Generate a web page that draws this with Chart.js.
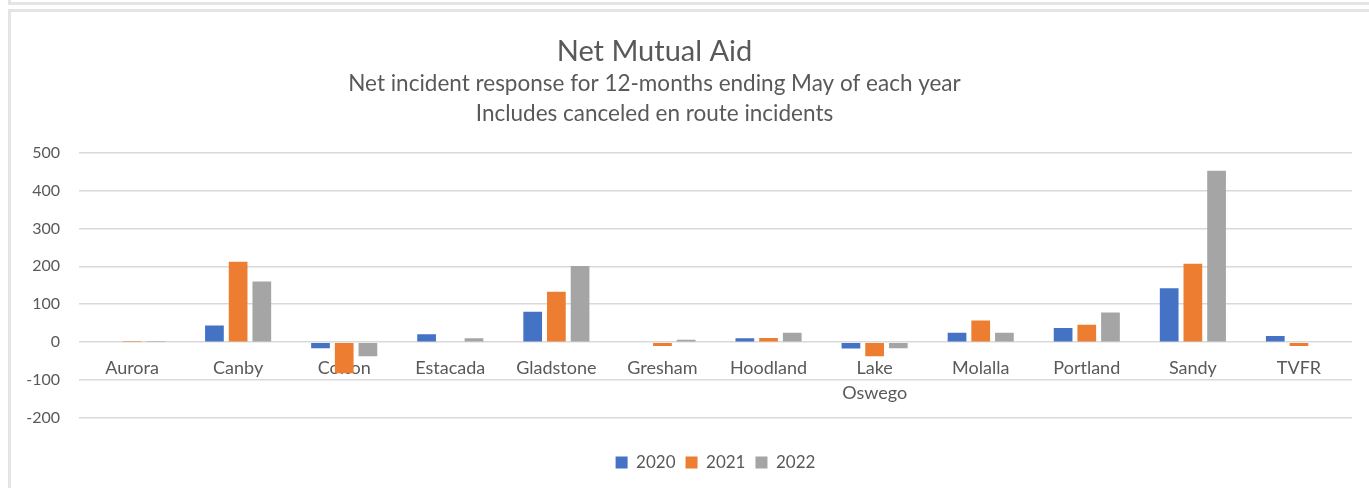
<!DOCTYPE html>
<html>
<head>
<meta charset="utf-8">
<script src="https://cdn.jsdelivr.net/npm/chart.js@4.4.0/dist/chart.umd.min.js"></script>
<style>
  html, body { margin: 0; padding: 0; background: #fff; }
  body { width: 1369px; height: 488px; position: relative; overflow: hidden; }
  .frame-top { position: absolute; left: 8px; top: -4px; width: 1400px; height: 6px;
    border-left: 3px solid #e4e4e4; border-bottom: 3px solid #e4e4e4; }
  .frame { position: absolute; left: 8px; top: 9px; width: 1400px; height: 600px;
    border-left: 3px solid #e4e4e4; border-top: 3px solid #e4e4e4; }
  #myChart { position: absolute; left: -43px; top: 0; }
</style>
</head>
<body>
<div class="frame-top"></div>
<div class="frame"></div>
<canvas id="myChart" width="1396" height="488"></canvas>
<script>
// 데이터
const stations = ["Aurora", "Canby", "Colton", "Estacada", "Gladstone", "Gresham",
  "Hoodland", ["Lake", "Oswego"], "Molalla", "Portland", "Sandy", "TVFR"];
const years = ["2020", "2021", "2022"];
const net2020 = [0, 44, -16, 21, 80, -2, 10, -17, 25, 37, 142, 16];
const net2021 = [3, 212, -82, 0, 133, -10, 11, -37, 57, 46, 207, -10];
const net2022 = [3, 160, -37, 10, 201, 6, 25, -16, 25, 78, 452, 2];
const yTicks = [-200, -100, 0, 100, 200, 300, 400, 500];

const colors = ["#4472C4", "#ED7D31", "#A5A5A5"];
const textColor = "#595959";

function initChart() {
  const options = {
    responsive: false,
    animation: false,
    layout: {
      padding: { top: 0, left: 0, right: 1, bottom: 7 },
    },
    scales: {
      x: {
        position: { y: 0 },
        z: 1,
        grid: { display: false, drawTicks: false },
        border: { display: false },
        ticks: {
          color: textColor,
          padding: 13.5,
          maxRotation: 0,
          autoSkip: false,
          font: { family: "Lato", size: 18, lineHeight: 25 / 18 },
        },
      },
      // 범례 위 여백용
      pad: {
        type: "linear",
        axis: "x",
        position: "bottom",
        ticks: { display: false },
        grid: { display: false },
        border: { display: false },
        afterFit: (s) => { s.height = 26; },
      },
      y: {
        min: -200,
        max: 500,
        afterFit: (s) => { s.width = 122; },
        afterBuildTicks: (s) => { s.ticks = yTicks.map((v) => ({ value: v })); },
        grid: { color: "#d9d9d9", lineWidth: 1.5, drawTicks: false },
        border: { display: false },
        ticks: {
          color: textColor,
          padding: 19,
          font: { family: "Lato", size: 16 },
        },
      },
    },
    plugins: {
      title: {
        display: true,
        text: "Net Mutual Aid",
        color: textColor,
        font: { family: "Lato", size: 29, weight: "normal", lineHeight: 1.2 },
        padding: { top: 34, bottom: 0 },
      },
      subtitle: {
        display: true,
        text: ["Net incident response for 12-months ending May of each year",
          "Includes canceled en route incidents"],
        color: textColor,
        font: { family: "Lato", size: 22.5, lineHeight: 30 / 22.5 },
        padding: { top: 0.2, bottom: 23.5 },
      },
      legend: {
        position: "bottom",
        fullSize: false,
        labels: {
          color: textColor,
          boxWidth: 12,
          boxHeight: 12,
          padding: 10,
          font: { family: "Lato", size: 17 },
        },
      },
      tooltip: { enabled: false },
    },
  };

  const config = {
    type: "bar",
    data: {
      labels: stations,
      datasets: [
        { label: years[0], data: net2020, backgroundColor: colors[0] },
        { label: years[1], data: net2021, backgroundColor: colors[1] },
        { label: years[2], data: net2022, backgroundColor: colors[2] },
      ].map((d) => ({ ...d, categoryPercentage: 0.67, barPercentage: 0.79 })),
    },
    options: options,
  };

  const ctx = document.getElementById("myChart").getContext("2d");
  return new Chart(ctx, config);
}

initChart();
</script>
</body>
</html>
